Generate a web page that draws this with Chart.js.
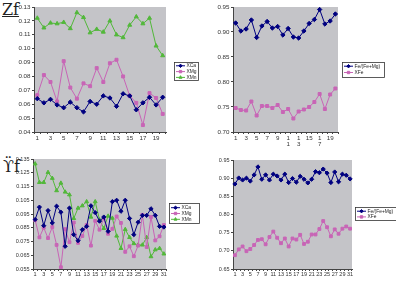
<!DOCTYPE html>
<html>
<head>
<meta charset="utf-8">
<script src="https://cdn.jsdelivr.net/npm/chart.js@4.4.0/dist/chart.umd.min.js"></script>
<style>
body { margin: 0; background: #fff; width: 396px; height: 286px; position: relative; overflow: hidden; }
.box { position: absolute; }
.title { position: absolute; font-family: "DejaVu Serif", "Liberation Serif", serif; font-size: 16px; color: #222; line-height: 17px; }
</style>
</head>
<body>
<div class="title" style="left:2px;top:1px;text-decoration:underline;">Zf</div>
<div class="title" style="left:3px;top:158px;">ϔf</div>
<div class="box" style="left:0;top:0;"><canvas id="c1" width="200" height="145"></canvas></div>
<div class="box" style="left:200px;top:0;"><canvas id="c2" width="196" height="150"></canvas></div>
<div class="box" style="left:0;top:145px;"><canvas id="c3" width="200" height="141"></canvas></div>
<div class="box" style="left:200px;top:145px;"><canvas id="c4" width="196" height="141"></canvas></div>
<script>
// top panels: 20 samples, bottom panels: 31 samples
const labels20 = Array.from({ length: 20 }, (_, i) => String(i + 1));
const labels31 = Array.from({ length: 31 }, (_, i) => String(i + 1));
// Excel wrapped some two-digit labels on the top-right chart
const wrapped20 = ['1', '', '3', '', '5', '', '7', '', '9', '', ['1', '1'], '', ['1', '3'], '', '15', '', ['1', '7'], '', '19', ''];

const zfXCa = [0.064, 0.061, 0.0635, 0.0595, 0.0575, 0.0615, 0.0575, 0.0545, 0.062, 0.060,
  0.066, 0.0645, 0.0585, 0.0675, 0.066, 0.056, 0.061, 0.065, 0.0595, 0.065];
const zfXMg = [0.0665, 0.081, 0.076, 0.062, 0.091, 0.072, 0.064, 0.075, 0.073, 0.086,
  0.076, 0.0895, 0.092, 0.080, 0.066, 0.061, 0.045, 0.068, 0.0645, 0.053];
const zfXMn = [0.122, 0.115, 0.1185, 0.118, 0.119, 0.1145, 0.126, 0.1225, 0.1115, 0.114,
  0.112, 0.120, 0.110, 0.108, 0.117, 0.123, 0.118, 0.122, 0.102, 0.095];

const zfFeRatio = [0.918, 0.902, 0.906, 0.924, 0.889, 0.912, 0.921, 0.908, 0.911, 0.894,
  0.907, 0.890, 0.888, 0.902, 0.917, 0.925, 0.945, 0.916, 0.922, 0.936];
const zfXFe = [0.748, 0.744, 0.743, 0.761, 0.733, 0.752, 0.752, 0.748, 0.754, 0.740,
  0.746, 0.727, 0.741, 0.745, 0.750, 0.760, 0.776, 0.746, 0.775, 0.787];

const yfXCa = [0.091, 0.100, 0.0865, 0.0975, 0.0885, 0.1007, 0.0963, 0.0715, 0.0993, 0.080,
  0.0756, 0.0836, 0.086, 0.101, 0.096, 0.0898, 0.0928, 0.0824, 0.104, 0.105,
  0.097, 0.105, 0.0918, 0.080, 0.089, 0.094, 0.094, 0.0988, 0.094, 0.086, 0.0855];
const yfXMg = [0.0906, 0.078, 0.085, 0.0775, 0.0855, 0.0725, 0.0563, 0.084, 0.0745, 0.0888,
  0.074, 0.079, 0.087, 0.072, 0.090, 0.0836, 0.0918, 0.0806, 0.0842, 0.0932,
  0.0885, 0.0675, 0.0715, 0.0643, 0.072, 0.0944, 0.071, 0.0928, 0.0758, 0.0788, 0.087];
const yfXMn = [0.1315, 0.118, 0.118, 0.1253, 0.121, 0.112, 0.1175, 0.111, 0.109, 0.0918,
  0.0993, 0.101, 0.104, 0.0928, 0.104, 0.0908, 0.0845, 0.0935, 0.092, 0.079,
  0.070, 0.0838, 0.078, 0.0735, 0.0725, 0.0725, 0.078, 0.064, 0.069, 0.070, 0.066];

const yfFeRatio = [0.884, 0.9005, 0.895, 0.900, 0.892, 0.909, 0.931, 0.897, 0.909, 0.895,
  0.911, 0.906, 0.895, 0.911, 0.888, 0.899, 0.889, 0.905, 0.897, 0.887,
  0.897, 0.918, 0.915, 0.925, 0.914, 0.888, 0.917, 0.890, 0.911, 0.908, 0.898];
const yfXFe = [0.688, 0.704, 0.712, 0.699, 0.705, 0.716, 0.730, 0.732, 0.718, 0.738,
  0.753, 0.736, 0.721, 0.734, 0.712, 0.734, 0.731, 0.744, 0.719, 0.725,
  0.745, 0.745, 0.760, 0.782, 0.765, 0.740, 0.759, 0.747, 0.761, 0.767, 0.761];

const ticksZfX = [0.04, 0.05, 0.06, 0.07, 0.08, 0.09, 0.10, 0.11, 0.12, 0.13];
const ticksZfFe = [0.70, 0.75, 0.80, 0.85, 0.90, 0.95];
const ticksYfX = [0.055, 0.065, 0.075, 0.085, 0.095, 0.105, 0.115, 0.125, 0.135];
const ticksYfFe = [0.65, 0.70, 0.75, 0.80, 0.85, 0.90, 0.95];

const NAVY = '#000080', PINK = '#c865b6', GREEN = '#52b83a';
const FONT = '"Liberation Sans", Arial, sans-serif';

function series(label, data, color, style, r) {
  return { label, data, borderColor: color, backgroundColor: color, borderWidth: 1,
    pointStyle: style, pointRadius: r, pointBorderWidth: 1, pointHoverRadius: r, tension: 0 };
}

const plotBg = {
  id: 'plotBg',
  beforeDraw(chart) {
    const a = chart.chartArea, ctx = chart.ctx;
    ctx.save();
    ctx.fillStyle = '#c4c4c8';
    ctx.fillRect(a.left, a.top, a.right - a.left, a.bottom - a.top);
    ctx.restore();
  }
};

const boxLegend = {
  id: 'boxLegend',
  afterDraw(chart, args, o) {
    const ctx = chart.ctx;
    ctx.save();
    ctx.fillStyle = '#fff';
    ctx.fillRect(o.x, o.y, o.w, o.h);
    ctx.strokeStyle = '#333';
    ctx.lineWidth = 0.8;
    ctx.strokeRect(o.x + 0.5, o.y + 0.5, o.w - 1, o.h - 1);
    ctx.font = o.size + 'px ' + FONT;
    ctx.textBaseline = 'middle';
    chart.data.datasets.forEach((ds, i) => {
      const y = o.y + o.pad + i * o.row;
      ctx.strokeStyle = ds.borderColor;
      ctx.fillStyle = ds.backgroundColor;
      ctx.lineWidth = 1;
      ctx.beginPath();
      ctx.moveTo(o.x + 2, y);
      ctx.lineTo(o.x + 11, y);
      ctx.stroke();
      Chart.helpers.drawPoint(ctx, { pointStyle: ds.pointStyle, radius: 1.7, borderWidth: 1 }, o.x + 6.5, y);
      ctx.fillStyle = '#222';
      ctx.fillText(ds.label, o.x + 12.5, y);
    });
    ctx.restore();
  }
};

function makeChart(id, labels, xLabel, datasets, yTicks, decimals, area, legend, fs) {
  const canvas = document.getElementById(id);
  const W = canvas.width, H = canvas.height;
  return new Chart(canvas, {
    type: 'line',
    data: { labels, datasets },
    plugins: [plotBg, boxLegend],
    options: {
      responsive: false,
      animation: false,
      layout: { padding: { left: 0, top: area.top, right: W - area.right, bottom: 0 } },
      plugins: { legend: { display: false }, tooltip: { enabled: false }, boxLegend: legend },
      scales: {
        x: {
          type: 'category',
          offset: true,
          grid: { offset: true, drawOnChartArea: false, tickLength: 2, color: '#444' },
          border: { color: '#444', width: 1 },
          ticks: {
            autoSkip: false, maxRotation: 0, padding: 1, color: '#333',
            font: { family: FONT, size: fs, lineHeight: 1.05 },
            callback: (v, i) => xLabel(i)
          },
          afterFit: s => { s.height = H - area.bottom; s.paddingLeft = 0; s.paddingRight = 0; }
        },
        y: {
          min: yTicks[0], max: yTicks[yTicks.length - 1],
          grid: { drawOnChartArea: false, tickLength: 2, color: '#444' },
          border: { color: '#444', width: 1 },
          ticks: { padding: 1.5, color: '#333', font: { family: FONT, size: fs },
            callback: v => v.toFixed(decimals) },
          afterBuildTicks: s => { s.ticks = yTicks.map(v => ({ value: v })); },
          afterFit: s => { s.width = area.left; s.paddingTop = 0; s.paddingBottom = 0; }
        }
      }
    }
  });
}

const oddOnly = arr => i => (i % 2 === 0 ? arr[i] : '');

makeChart('c1', labels20, oddOnly(labels20), [
  series('XCa', zfXCa, NAVY, 'rectRot', 2.2),
  series('XMg', zfXMg, PINK, 'rect', 2.1),
  series('XMn', zfXMn, GREEN, 'triangle', 2.3)
], ticksZfX, 2, { left: 34, right: 166, top: 7, bottom: 132 },
  { x: 174, y: 62, w: 25, h: 19, pad: 3.8, row: 5.8, size: 4.9 }, 6.2);

makeChart('c2', labels20, i => wrapped20[i], [
  series('Fe/(Fe+Mg)', zfFeRatio, NAVY, 'rectRot', 2.2),
  series('XFe', zfXFe, PINK, 'rect', 2.1)
], ticksZfFe, 2, { left: 33, right: 138, top: 7, bottom: 132 },
  { x: 142, y: 62, w: 43, h: 16, pad: 4.2, row: 6.3, size: 4.9 }, 6.2);

makeChart('c3', labels31, oddOnly(labels31), [
  series('XCa', yfXCa, NAVY, 'rectRot', 2.1),
  series('XMg', yfXMg, PINK, 'rect', 2.0),
  series('XMn', yfXMn, GREEN, 'triangle', 2.2)
], ticksYfX, 3, { left: 33, right: 166, top: 14, bottom: 124 },
  { x: 169, y: 58, w: 31, h: 21, pad: 4.7, row: 5.8, size: 4.9 }, 5.5);

makeChart('c4', labels31, oddOnly(labels31), [
  series('Fe/(Fe+Mg)', yfFeRatio, NAVY, 'rectRot', 2.1),
  series('XFe', yfXFe, PINK, 'rect', 2.0)
], ticksYfFe, 2, { left: 33, right: 152, top: 15, bottom: 124 },
  { x: 155, y: 62, w: 43, h: 14, pad: 4.2, row: 5.7, size: 4.9 }, 5.5);
</script>
</body>
</html>
